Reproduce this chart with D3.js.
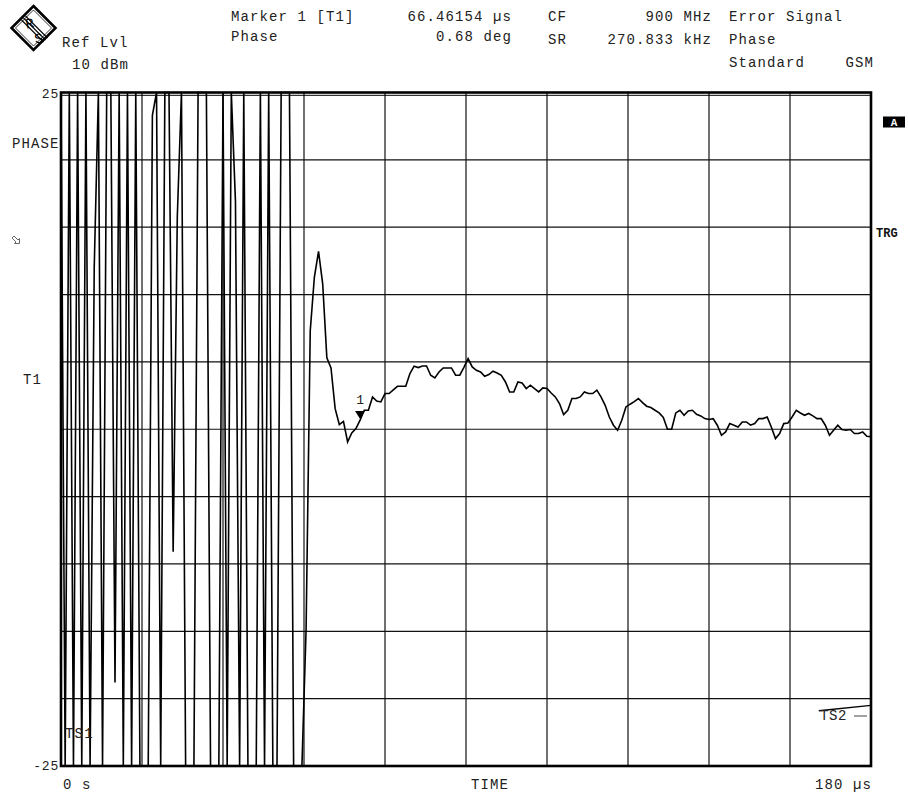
<!DOCTYPE html>
<html>
<head>
<meta charset="utf-8">
<script src="https://cdn.jsdelivr.net/npm/d3@7"></script>
<style>
  html, body { margin: 0; padding: 0; background: #fff; }
  svg text { font-family: "Liberation Mono", "DejaVu Sans Mono", monospace; fill: #222; }
</style>
</head>
<body>
<svg id="chart" width="908" height="793"></svg>
<script>
// Sweep settings: 180 µs span, sampled at 4 x 270.833 kHz
const spanUs = 180;
const sampleStepUs = spanUs / 195;

// Phase error trace in degrees, one value per sample
const phaseDeg = [
  38, -41, 57, -36, 62, -48, 71, -63, 12, 49,
  -45, 66, 52, -18.8, 43, -57, 61, -49, 58, -70,
  -44, -61, 23.3, 74, -52, 47, 53, -9.1, 15.8, 64,
  -59, -33, -47, 69, 55, 72, -64, -41, -45, 54,
  -50, 48, 16.9, -62, 57, -53, -40, -68, 60, -44,
  51, -57, -39, 66, 49, 58, -47, -61, -52, -14.9,
  7.3, 11.3, 13.2, 10.8, 5.3, 4.55, 1.53, 0.35, 0.59, -0.94,
  -0.27, 0.05, 0.68, 1.41, 1.41, 2.40, 2.10, 2.03, 2.65, 2.65,
  2.93, 3.19, 3.19, 3.19, 4.14, 4.68, 4.58, 4.70, 4.70, 4.01,
  3.81, 4.25, 4.55, 4.55, 4.55, 4.01, 4.01, 4.60, 5.25, 4.63,
  4.38, 4.25, 3.93, 4.06, 4.31, 4.18, 4.01, 3.51, 2.77, 2.77,
  3.51, 3.44, 3.02, 3.27, 3.02, 2.77, 3.07, 3.02, 2.69, 2.40,
  1.91, 1.09, 1.41, 2.28, 2.28, 2.40, 2.77, 2.65, 2.65, 2.90,
  2.40, 1.78, 0.91, 0.30, -0.07, 0.67, 1.66, 1.86, 2.05, 2.28,
  1.98, 1.71, 1.61, 1.41, 1.21, 0.87, 0.00, 0.00, 1.21, 1.41,
  1.04, 1.36, 1.41, 1.11, 0.99, 0.79, 0.72, 0.79, 0.30, -0.45,
  -0.20, 0.42, 0.30, 0.17, 0.54, 0.54, 0.30, 0.42, 0.79, 0.79,
  0.91, 0.17, -0.69, -0.32, 0.42, 0.47, 0.91, 1.41, 1.21, 1.04,
  1.17, 0.99, 0.79, 0.79, 0.30, -0.45, -0.07, 0.30, -0.02, -0.07,
  -0.02, -0.32, -0.32, -0.20, -0.52, -0.55
];

// Marker 1 readout
const markerTimeUs = 66.46154;
const markerPhaseDeg = 0.68;

// Time slot line near the right edge (TS2)
const ts2TimeUs = [168.4, 180];
const ts2PhaseDeg = [-20.9, -20.5];

// Axis ends and labels
const phaseRange = [-25, 25];
const yEndLabels = ["-25", "25"];
const xLabels = ["0 s", "TIME", "180 µs"];

// Header readouts
const headerLeft = ["Marker 1 [T1]", "Phase"];
const headerValues = ["66.46154 µs", "0.68 deg"];
const headerKeys = ["CF", "SR"];
const headerSettings = ["900 MHz", "270.833 kHz"];
const headerMode = ["Error Signal", "Phase", "Standard"];

const svg = d3.select("#chart");
const W = 908, H = 793;
svg.append("rect").attr("width", W).attr("height", H).attr("fill", "#fff");

const plot = { left: 61, right: 871, top: 92.5, bottom: 766 };

const x = d3.scaleLinear().domain([0, spanUs]).range([plot.left, plot.right]);
// values beyond the screen are pinned to the top or bottom edge
const y = d3.scaleLinear().domain(phaseRange).range([plot.bottom, plot.top]).clamp(true);

const FS = 14, LS = 1.1;
function txt(s, px, py, anchor, opts = {}) {
  const t = svg.append("text")
    .attr("x", px).attr("y", py)
    .attr("font-size", opts.size || FS)
    .attr("letter-spacing", opts.ls != null ? opts.ls : LS)
    .attr("text-anchor", anchor || "start")
    .text(s);
  if (opts.weight) t.attr("font-weight", opts.weight);
  if (opts.fill) t.style("fill", opts.fill);
  return t;
}

// grid: 10 x 10 divisions
const xGrid = d3.range(0, spanUs + 0.001, spanUs / 10);
const yGrid = d3.range(phaseRange[0], phaseRange[1] + 0.001, (phaseRange[1] - phaseRange[0]) / 10);
const grid = svg.append("g").attr("stroke", "#111").attr("stroke-width", 1.2);
grid.selectAll("line.v").data(xGrid).join("line")
  .attr("x1", d => x(d)).attr("x2", d => x(d))
  .attr("y1", plot.top).attr("y2", plot.bottom);
grid.selectAll("line.h").data(yGrid).join("line")
  .attr("x1", plot.left).attr("x2", plot.right)
  .attr("y1", d => y(d)).attr("y2", d => y(d));

// trace
const line = d3.line()
  .x((d, i) => x(i * sampleStepUs))
  .y(d => y(d));
svg.append("path")
  .datum(phaseDeg)
  .attr("fill", "none")
  .attr("stroke", "#000")
  .attr("stroke-width", 1.6)
  .attr("stroke-linejoin", "miter")
  .attr("d", line);

// frame
svg.append("rect")
  .attr("x", plot.left).attr("y", plot.top)
  .attr("width", plot.right - plot.left).attr("height", plot.bottom - plot.top)
  .attr("fill", "none").attr("stroke", "#000").attr("stroke-width", 2.6);
svg.append("line")
  .attr("x1", plot.left).attr("x2", plot.right)
  .attr("y1", plot.top + 2.8).attr("y2", plot.top + 2.8)
  .attr("stroke", "#000").attr("stroke-width", 1);

// marker 1
const mx = x(markerTimeUs), my = y(markerPhaseDeg);
svg.append("path")
  .attr("d", `M${mx - 5},${my - 9} L${mx + 5},${my - 9} L${mx},${my - 1} Z`)
  .attr("fill", "#000");
txt("1", mx, my - 16, "middle", { size: 13, ls: 0 });

// TS2 line
svg.append("line")
  .attr("x1", x(ts2TimeUs[0])).attr("x2", x(ts2TimeUs[1]))
  .attr("y1", y(ts2PhaseDeg[0])).attr("y2", y(ts2PhaseDeg[1]))
  .attr("stroke", "#000").attr("stroke-width", 1.4);
txt("TS2", 820, 720, "start", { size: 14, ls: 0.6 });
svg.append("line").attr("x1", 854).attr("x2", 867).attr("y1", 716).attr("y2", 716)
  .attr("stroke", "#444").attr("stroke-width", 1);
txt("TS1", 65, 738, "start", { size: 14, ls: 1.2 });

// y end labels
txt(yEndLabels[1], 59, 98, "end", { size: 13, ls: 0.8 });
txt(yEndLabels[0], 59, 770, "end", { size: 13, ls: 0.8 });

// x labels
txt(xLabels[0], 63, 789, "start");
txt(xLabels[1], 490, 789, "middle");
txt(xLabels[2], 872, 789, "end");

// left side annotations
txt("PHASE", 12, 148, "start");
txt("T1", 23, 384, "start");
svg.append("path")
  .attr("d", "M14,236 L18,240 L19.5,238.5 L19.5,243.5 L14.5,243.5 L16,242 L12,238 Z")
  .attr("fill", "none").attr("stroke", "#555").attr("stroke-width", 0.9);

// right side annotations
svg.append("rect").attr("x", 883).attr("y", 116.5).attr("width", 22).attr("height", 11).attr("fill", "#000");
txt("A", 894, 126, "middle", { size: 11, ls: 0, weight: "bold", fill: "#fff" });
txt("TRG", 876, 237, "start", { size: 12, ls: 0, weight: "bold", fill: "#111" });

// header
txt("Ref Lvl", 62, 47, "start");
txt("10 dBm", 72, 69, "start");
txt(headerLeft[0], 231, 21, "start");
txt(headerLeft[1], 231, 41, "start");
txt(headerValues[0], 512, 21, "end");
txt(headerValues[1], 512, 41, "end");
txt(headerKeys[0], 548, 21, "start");
txt(headerKeys[1], 548, 44, "start");
txt(headerSettings[0], 712, 21, "end");
txt(headerSettings[1], 712, 44, "end");
txt(headerMode[0], 729, 21, "start");
txt(headerMode[1], 729, 44, "start");
txt(headerMode[2], 729, 67, "start");
txt("GSM", 874, 67, "end");

// R&S logo
const logo = svg.append("g").attr("transform", "translate(33.5,28)");
logo.append("path").attr("d", "M0,-22 L22,0 L0,22 L-22,0 Z")
  .attr("fill", "#fff").attr("stroke", "#000").attr("stroke-width", 2.6);
logo.append("path").attr("d", "M0,-18 L18,0 L0,18 L-18,0 Z")
  .attr("fill", "none").attr("stroke", "#000").attr("stroke-width", 0.8);
[-2, 0, 2].forEach(o => {
  logo.append("line")
    .attr("x1", -10 + o).attr("y1", -10 - o).attr("x2", 12 + o).attr("y2", 12 - o)
    .attr("stroke", "#000").attr("stroke-width", 1.1);
});
logo.append("text").attr("x", -4).attr("y", 0).attr("font-size", 14)
  .attr("font-family", "Liberation Sans, sans-serif").attr("text-anchor", "middle")
  .style("fill", "#000")
  .attr("transform", "rotate(-12,-4,-5)").text("R");
logo.append("text").attr("x", 5).attr("y", 15).attr("font-size", 14)
  .attr("font-family", "Liberation Sans, sans-serif").attr("text-anchor", "middle")
  .style("fill", "#000")
  .attr("transform", "rotate(-12,5,10)").text("S");
</script>
</body>
</html>
